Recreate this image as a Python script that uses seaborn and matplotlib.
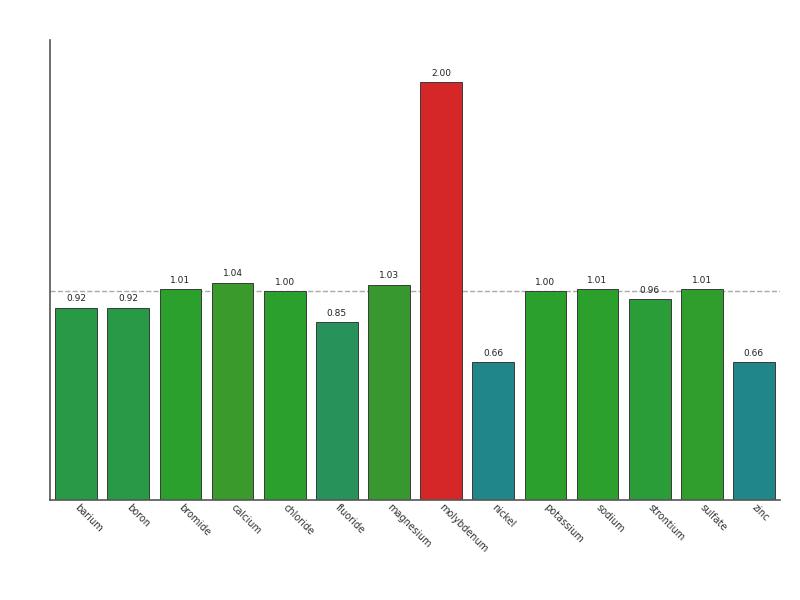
import numpy as np
import pandas as pd
import matplotlib
matplotlib.use('Agg')
import matplotlib.pyplot as plt
import seaborn as sns

# Values
analytes = ['barium', 'boron', 'bromide', 'calcium', 'chloride', 'fluoride', 'magnesium',
            'molybdenum', 'nickel', 'potassium', 'sodium', 'strontium', 'sulfate', 'zinc']
ratios = [0.92, 0.92, 1.01, 1.04, 1.00, 0.85, 1.03, 2.00, 0.66, 1.00, 1.01, 0.96, 1.01, 0.66]
bar_colors = ['#289a45', '#289a45', '#2ca02c', '#3a9a2c', '#2ca02c', '#27925a', '#36982e',
              '#d62728', '#21868a', '#2ca02c', '#2ca02c', '#2a9c38', '#2f9e2c', '#21868a']

df = pd.DataFrame({'analyte': analytes, 'ratio': ratios})

sns.set_style('white')
fig = plt.figure(figsize=(8, 6), dpi=100)
ax = fig.add_axes([0.0625, 0.1667, 0.9125, 0.7666])

sns.barplot(data=df, x='analyte', y='ratio', hue='analyte', palette=bar_colors,
            legend=False, width=0.8, edgecolor='#3a3a3a', linewidth=0.7, ax=ax, saturation=1)

# Reference line at 1.0
ax.axhline(1.0, color='#aaaaaa', linestyle='--', linewidth=1, zorder=0)

for i, v in enumerate(ratios):
    ax.text(i, v + 0.02, f'{v:.2f}', ha='center', va='bottom', fontsize=6.5, color='#222222')

ax.set_ylim(0, 2.2)
ax.set_xlim(-0.5, len(analytes) - 0.5)
ax.set_xlabel('')
ax.set_ylabel('')
ax.set_yticks([])
ax.tick_params(axis='x', length=0, pad=4)
plt.setp(ax.get_xticklabels(), rotation=-45, ha='left', va='center', rotation_mode='anchor',
         fontsize=7, color='#333333')

for side in ['top', 'right']:
    ax.spines[side].set_visible(False)
for side in ['left', 'bottom']:
    ax.spines[side].set_color('#555555')
    ax.spines[side].set_linewidth(1.2)

plt.savefig('out.png', dpi=100)
plt.close()
